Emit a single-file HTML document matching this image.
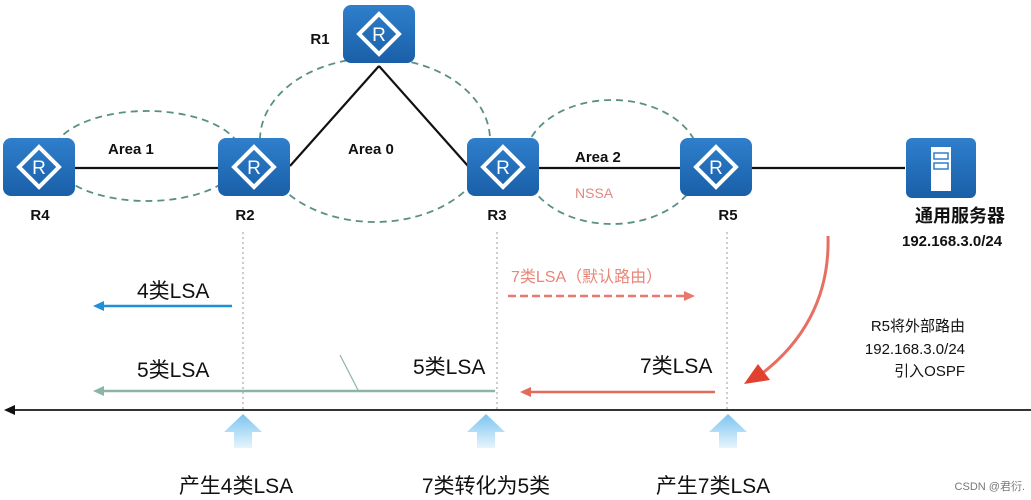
<!DOCTYPE html>
<html><head><meta charset="utf-8"><style>
body{margin:0;background:#fff;}
svg{display:block;font-family:"Liberation Sans","Noto Sans CJK SC",sans-serif;}
</style></head><body>
<svg width="1031" height="500" viewBox="0 0 1031 500">
<defs>
<linearGradient id="rb" x1="0" y1="0" x2="0" y2="1"><stop offset="0" stop-color="#2f7fcc"/><stop offset="1" stop-color="#1a5fa8"/></linearGradient>
<linearGradient id="up" x1="0" y1="0" x2="0" y2="1"><stop offset="0" stop-color="#7cc4f0"/><stop offset="1" stop-color="#e6f4fc"/></linearGradient>
<g id="router"><rect x="0" y="0" width="72" height="58" rx="8" fill="url(#rb)"/><polygon points="36,9 56,29 36,49 16,29" fill="none" stroke="#fff" stroke-width="4"/><text x="36" y="36" font-size="19" fill="#fff" text-anchor="middle">R</text></g>
</defs>
<g fill="none" stroke="#5a8f85" stroke-width="1.8" stroke-dasharray="7,5">
<ellipse cx="147" cy="156" rx="95" ry="45"/>
<ellipse cx="375" cy="140" rx="115" ry="82"/>
<ellipse cx="612" cy="162" rx="88" ry="62"/>
</g>
<g stroke="#111" stroke-width="2.2" fill="none">
<line x1="75" y1="168" x2="218" y2="168"/>
<line x1="290" y1="166" x2="379" y2="66"/>
<line x1="379" y1="66" x2="468" y2="166"/>
<line x1="538" y1="168" x2="680" y2="168"/>
<line x1="748" y1="168" x2="905" y2="168"/>
</g>
<use href="#router" x="3" y="138"/>
<use href="#router" x="218" y="138"/>
<use href="#router" x="343" y="5"/>
<use href="#router" x="467" y="138"/>
<use href="#router" x="680" y="138"/>
<rect x="906" y="138" width="70" height="60" rx="6" fill="url(#rb)"/>
<rect x="931" y="147" width="20" height="44" fill="#fff"/>
<rect x="934" y="153" width="14" height="6" fill="none" stroke="#2f7fcc" stroke-width="1.5"/>
<rect x="934" y="163" width="14" height="6" fill="none" stroke="#2f7fcc" stroke-width="1.5"/>
<g font-weight="bold" font-size="15" fill="#111">
<text x="40" y="220" text-anchor="middle">R4</text>
<text x="245" y="220" text-anchor="middle">R2</text>
<text x="320" y="44" text-anchor="middle">R1</text>
<text x="497" y="220" text-anchor="middle">R3</text>
<text x="728" y="220" text-anchor="middle">R5</text>
<text x="108" y="154">Area 1</text>
<text x="348" y="154">Area 0</text>
<text x="575" y="162">Area 2</text>
<text x="915" y="222" font-size="18">通用服务器</text>
<text x="902" y="246">192.168.3.0/24</text>
</g>
<text x="575" y="198" font-size="14" fill="#e08a80">NSSA</text>
<g stroke="#aaa" stroke-width="1.2" stroke-dasharray="2,3">
<line x1="243" y1="232" x2="243" y2="410"/>
<line x1="497" y1="232" x2="497" y2="410"/>
<line x1="727" y1="232" x2="727" y2="410"/>
</g>
<line x1="232" y1="306" x2="100" y2="306" stroke="#1f8fd8" stroke-width="2.5"/>
<polygon points="93,306 104,301 104,311" fill="#1f8fd8"/>
<text x="137" y="298" font-size="21" fill="#111">4类LSA</text>
<line x1="495" y1="391" x2="100" y2="391" stroke="#8cb5a8" stroke-width="2.5"/>
<polygon points="93,391 104,386 104,396" fill="#8cb5a8"/>
<line x1="358" y1="390" x2="340" y2="355" stroke="#8cb5a8" stroke-width="1.2"/>
<text x="137" y="377" font-size="21" fill="#111">5类LSA</text>
<text x="413" y="374" font-size="21" fill="#111">5类LSA</text>
<line x1="508" y1="296" x2="684" y2="296" stroke="#e8786a" stroke-width="2.5" stroke-dasharray="8,4"/>
<polygon points="695,296 684,291 684,301" fill="#e8786a"/>
<text x="511" y="282" font-size="16" fill="#e8867a">7类LSA（默认路由）</text>
<line x1="715" y1="392" x2="528" y2="392" stroke="#e26a5a" stroke-width="2.5"/>
<polygon points="520,392 531,387 531,397" fill="#e26a5a"/>
<text x="640" y="373" font-size="21" fill="#111">7类LSA</text>
<line x1="1031" y1="410" x2="12" y2="410" stroke="#333" stroke-width="2"/>
<polygon points="4,410 15,405 15,415" fill="#111"/>
<g fill="url(#up)">
<polygon points="243,414 262,432 252,432 252,448 234,448 234,432 224,432"/>
<polygon points="486,414 505,432 495,432 495,448 477,448 477,432 467,432"/>
<polygon points="728,414 747,432 737,432 737,448 719,448 719,432 709,432"/>
</g>
<g font-size="21" fill="#111" text-anchor="middle">
<text x="236" y="493">产生4类LSA</text>
<text x="486" y="493">7类转化为5类</text>
<text x="713" y="493">产生7类LSA</text>
</g>
<path d="M828,236 C830,300 800,345 760,375" fill="none" stroke="#e24a3a" stroke-width="3" opacity="0.8"/>
<polygon points="744,384 758,364 770,380" fill="#e2412f"/>
<g font-size="15" fill="#111" text-anchor="end">
<text x="965" y="331">R5将外部路由</text>
<text x="965" y="354">192.168.3.0/24</text>
<text x="965" y="376">引入OSPF</text>
</g>
<text x="1025" y="490" font-size="11" fill="#777" text-anchor="end">CSDN @君衍.</text>
</svg>
</body></html>
